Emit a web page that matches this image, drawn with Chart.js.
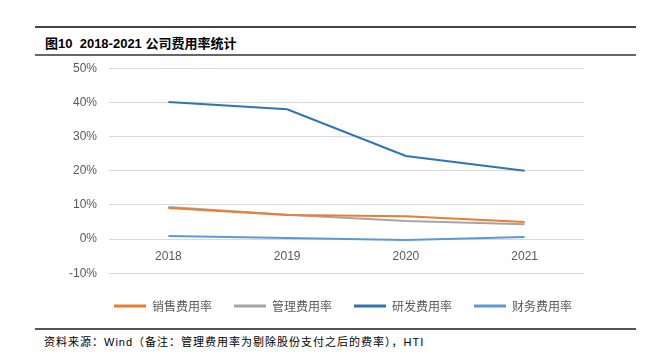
<!DOCTYPE html>
<html><head><meta charset="utf-8">
<script src="https://cdn.jsdelivr.net/npm/chart.js@4"></script>
<style>
html,body{margin:0;padding:0;background:#fff;}
body{width:655px;height:358px;position:relative;overflow:hidden;font-family:"Liberation Sans","Noto Sans CJK SC",sans-serif;}
.hr{position:absolute;left:35px;width:601px;height:2px;background:#444;}
#title{position:absolute;left:45px;top:33px;font-size:13px;font-weight:bold;color:#000;font-family:"Liberation Sans","Noto Sans CJK SC",sans-serif;}
#note{position:absolute;left:44px;top:333px;font-size:11px;letter-spacing:1px;color:#000;font-family:"Liberation Sans","Noto Sans CJK SC",sans-serif;}
#wrap{position:absolute;left:0;top:49px;width:655px;height:277px;}
</style></head><body>
<div class="hr" style="top:26px"></div>
<div id="title">图10&nbsp; 2018-2021 公司费用率统计</div>
<div class="hr" style="top:54px;background:#666"></div>
<div id="wrap"><canvas id="c" width="655" height="277"></canvas></div>
<div class="hr" style="top:328px;background:#555"></div>
<div id="note">资料来源：Wind（备注：管理费用率为剔除股份支付之后的费率），HTI</div>
<script>
const categories = ["2018","2019","2020","2021"];
const seriesNames = ["销售费用率","管理费用率","研发费用率","财务费用率"];
const salesRate = [9.1, 7.0, 6.7, 5.0];
const adminRate = [9.4, 7.1, 5.3, 4.3];
const rdRate = [40.1, 38.0, 24.3, 20.0];
const financeRate = [0.9, 0.3, -0.3, 0.6];
const colors = ["#ED7D31","#A5A5A5","#2E75B6","#5B9BD5"];
const yTicks = [-10,0,10,20,30,40,50];

const values = [salesRate, adminRate, rdRate, financeRate];
const shiftLegend = {
  id: 'shiftLegend',
  afterLayout(chart) {
    const lg = chart.legend;
    if (lg) { lg.left += 51; lg.right += 51; }
  }
};
new Chart(document.getElementById('c'), {
  type: 'line',
  data: {
    labels: categories,
    datasets: seriesNames.map((n,i)=>({
      label: n, data: values[i], borderColor: colors[i], backgroundColor: colors[i],
      borderWidth: 2, pointRadius: 0, tension: 0
    }))
  },
  plugins: [shiftLegend],
  options: {
    responsive: false, animation: false,
    layout: {padding: {top: 5, right: 71, left: 0, bottom: 4}},
    plugins: {
      legend: {
        position: 'bottom',
        title: {display: true, text: ' ', padding: 0, font: {size: 4}},
        labels: {
          usePointStyle: true, pointStyle: 'line', pointStyleWidth: 32, boxHeight: 3,
          color: '#595959', padding: 22,
          font: {size: 12, family: '"Noto Sans CJK SC", sans-serif'},
          generateLabels: chart => chart.data.datasets.map((d,i)=>({
            text: d.label, strokeStyle: d.borderColor, fillStyle: d.borderColor,
            lineWidth: 3, pointStyle: 'line', fontColor: '#595959', datasetIndex: i, hidden: false
          }))
        }
      },
      tooltip: {enabled: false}
    },
    scales: {
      x: {
        type: 'category', offset: true,
        position: {y: 0},
        afterFit: s => { s.height = 0; },
        grid: {display: false, drawTicks: false},
        border: {display: false},
        ticks: {color: '#595959', font: {size: 12, family: '"Liberation Sans", sans-serif'}, padding: 10}
      },
      y: {
        min: -10, max: 50,
        afterBuildTicks: s => { s.ticks = yTicks.map(v=>({value:v})); },
        afterFit: s => { s.width = 109; },
        grid: {color: '#D9D9D9', lineWidth: 1, drawTicks: false},
        border: {display: false},
        ticks: {color: '#595959', padding: 12, font: {size: 12, family: '"Liberation Sans", sans-serif'},
          callback: v => v + '%'}
      }
    }
  }
});
</script>
</body></html>
